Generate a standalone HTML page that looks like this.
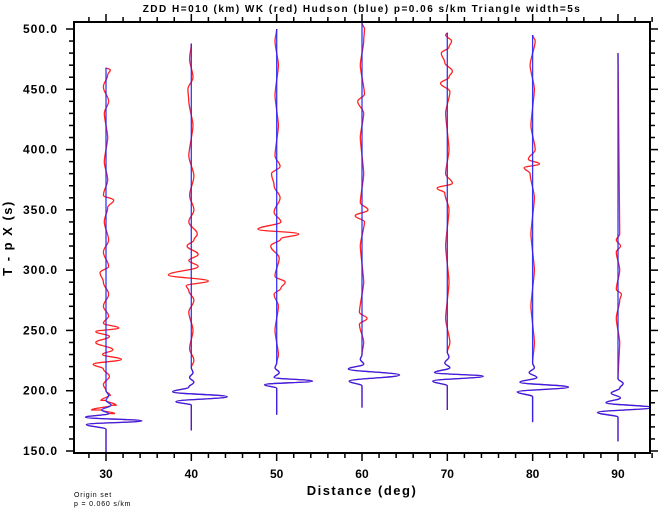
<!DOCTYPE html>
<html><head><meta charset="utf-8"><style>
body{margin:0;background:#fff;}
svg{display:block;font-family:"Liberation Sans",sans-serif;}
</style></head><body>
<svg id="c" width="659" height="508"></svg>
<script>
const distances=[30,40,50,60,70,80,90];
const tRange=[[148,468],[167,488],[180,500],[186,505],[184,497],[174,495],[158,480]];
const bluePulses=[
 [[168,0],[172,-2.3],[175,4.2],[178,-2.4],[181,0.3],[184,-0.5],[188,0.6],[192,0],[196,0.3],[200,0]],
 [[188,0],[191,-1.8],[195,4.2],[199,-2.2],[203,-0.3],[207,0.3],[211,-0.2],[215,0.2],[219,0]],
 [[202,0],[205,-1.4],[208,4.2],[211,-0.3],[215,0.3],[219,-0.2],[223,0]],
 [[204,0],[208,-1.5],[213,4.4],[218,-1.6],[222,0.2],[226,-0.2],[230,0]],
 [[204,0],[208,-1.7],[212,4.2],[215,-1.5],[219,0.3],[223,-0.3],[228,0.2],[232,0]],
 [[195,0],[199,-1.8],[203,4.2],[207,-1.5],[211,0.5],[215,-0.4],[219,0.2],[223,0]],
 [[178,0],[182,-2.4],[186,4.0],[190,-1.4],[194,0.3],[198,-0.8],[202,0.2],[206,0.6],[210,0]]
];
const redExtra=[
 [[181,1.0],[184,-1.7],[188,1.2],[192,-0.6],[196,0.5],[205,-0.3],[212,0.4],[218,-0.3],[222,-1.5],[226,1.8],[230,-0.4],[234,0.8],[240,-1.2],[245,0.4],[249,-1.2],[252,1.5],[256,-0.3],[262,0.3],[270,-0.3],[280,0.3],[290,-0.3],[298,-0.7],[303,0.3],[315,-0.3],[325,0.3],[340,-0.2],[352,0.2],[358,0.9],[362,-0.3],[375,0.2],[390,-0.2],[410,0.2],[430,-0.2],[440,0.3],[452,-0.3],[462,0.2],[466,0.5]],
 [[225,0.3],[235,-0.2],[250,0.2],[265,-0.3],[275,0.3],[283,-0.3],[287,-0.6],[291,2.0],[296,-2.7],[303,0.8],[308,-0.3],[313,0.8],[320,-0.5],[325,0.3],[330,0.7],[340,-0.3],[350,0.3],[362,-0.2],[378,0.3],[395,-0.3],[420,0.2],[440,-0.3],[450,-0.4],[460,0.2],[475,-0.2]],
 [[230,0.2],[250,-0.2],[270,0.2],[280,-0.3],[285,0.5],[290,1.0],[295,-0.2],[310,0.3],[320,-0.7],[326,0.5],[330,2.6],[334,-2.2],[340,0.5],[348,-0.3],[360,0.4],[370,-0.3],[380,-0.6],[386,0.4],[395,-0.2],[420,0.2],[445,-0.2],[470,0.2],[490,-0.2]],
 [[240,0.2],[255,-0.3],[260,0.6],[265,-0.3],[290,0.2],[320,-0.2],[340,0.3],[345,-0.8],[350,0.7],[356,-0.2],[380,0.2],[410,-0.2],[430,0.2],[440,-0.5],[446,0.3],[470,-0.2],[490,0.2],[500,0.3]],
 [[240,0.3],[260,-0.2],[290,0.2],[320,-0.2],[350,0.2],[364,-0.3],[368,-1.2],[372,0.6],[380,-0.2],[400,0.2],[430,-0.2],[448,0.3],[455,-0.8],[460,0.2],[465,0.6],[472,-0.3],[480,-0.7],[485,0.2],[490,0.5],[495,-0.2]],
 [[240,0.2],[270,-0.2],[300,0.2],[330,-0.2],[360,0.2],[380,-0.3],[385,-1.0],[388,0.8],[392,-0.5],[400,0.3],[420,-0.2],[450,0.2],[470,-0.3],[490,0.3]],
 [[240,0.2],[260,-0.2],[275,0.2],[280,0.4],[284,-0.2],[300,0.2],[315,-0.2],[320,0.3],[325,-0.2],[330,0.2]]
];
const yTicks=[150,200,250,300,350,400,450,500];
const xTicks=[30,40,50,60,70,80,90];
const NS='http://www.w3.org/2000/svg';
const L=74,R=650,T=22,B=453;
const X=d=>106+(d-30)*8.533;
const Y=t=>451-(t-150)*1.2057;
const svg=document.getElementById('c');
function el(tag,a,parent){const e=document.createElementNS(NS,tag);for(const k in a)e.setAttribute(k,a[k]);(parent||svg).appendChild(e);return e;}
const defs=el('defs',{});const cp=el('clipPath',{id:'pc'},defs);el('rect',{x:L,y:T,width:R-L,height:B-T},cp);
function smooth(P){
 let d='M'+P[0][0].toFixed(1)+','+P[0][1].toFixed(1);
 for(let i=0;i<P.length-1;i++){
  const p1=P[i],p2=P[i+1],dy=(p2[1]-p1[1]);
  const k=Math.min(Math.abs(dy)/2.5,6)*Math.sign(dy);
  d+=' C'+p1[0].toFixed(1)+','+(p1[1]+k).toFixed(1)+' '+p2[0].toFixed(1)+','+(p2[1]-k).toFixed(1)+' '+p2[0].toFixed(1)+','+p2[1].toFixed(1);
 }
 return d;
}
function series(i,extra){
 const [t0,t1]=tRange[i];let pts=bluePulses[i].slice();
 if(extra)pts=pts.concat(redExtra[i]);
 pts=pts.filter(p=>p[0]>t0&&p[0]<t1);pts.push([t0,0],[t1,0]);pts.sort((a,b)=>a[0]-b[0]);
 return smooth(pts.map(p=>[X(distances[i]+p[1]),Y(p[0])]));
}
const g=el('g',{'clip-path':'url(#pc)'});
distances.forEach((d,i)=>{
 const r=el('path',{d:series(i,true),fill:'none',stroke:'#ff2020','stroke-width':1.3,'stroke-linejoin':'round'},g);
 
 
 const b=el('path',{d:series(i,false),fill:'none',stroke:'#2020ff','stroke-width':1.3,'stroke-linejoin':'round',opacity:0.9},g);
 
 
});
const fr=el('rect',{x:L,y:T,width:R-L,height:B-T,fill:'none',stroke:'#000','stroke-width':2});


for(let t=150;t<=505;t+=10){const y=Y(t);const maj=t%50===0;
 el('line',{x1:L-(maj?8:5),x2:L,y1:y,y2:y,stroke:'#000','stroke-width':1.5});
 el('line',{x1:R,x2:R+(maj?8:5),y1:y,y2:y,stroke:'#000','stroke-width':1.5});}
for(let d=28;d<=94;d+=2){const x=X(d);const maj=d%10===0;
 el('line',{x1:x,x2:x,y1:B,y2:B+(maj?8:5),stroke:'#000','stroke-width':1.5});
 el('line',{x1:x,x2:x,y1:T-(maj?8:5),y2:T,stroke:'#000','stroke-width':1.5});}
yTicks.forEach(t=>{const e=el('text',{x:58,y:Y(t)+4,'text-anchor':'end','font-size':12,'font-weight':'bold','letter-spacing':1});e.textContent=t.toFixed(1);
 
 });
xTicks.forEach(d=>{const e=el('text',{x:X(d),y:478,'text-anchor':'middle','font-size':12,'font-weight':'bold'});e.textContent=d;
 
 });
let e=el('text',{x:362,y:12,'text-anchor':'middle','font-size':10,'font-weight':'bold','letter-spacing':1.5});e.textContent='ZDD H=010 (km) WK (red) Hudson (blue) p=0.06 s/km Triangle width=5s';


e=el('text',{x:362,y:495,'text-anchor':'middle','font-size':13,'font-weight':'bold','letter-spacing':1.5});e.textContent='Distance (deg)';


e=el('text',{x:0,y:0,transform:'translate(12,238) rotate(-90)','text-anchor':'middle','font-size':13,'font-weight':'bold','letter-spacing':1.5});e.textContent='T - p X (s)';


e=el('text',{x:74,y:497,'font-size':7,'letter-spacing':0.8});e.textContent='Origin set';


e=el('text',{x:74,y:506,'font-size':7,'letter-spacing':0.8});e.textContent='p = 0.060 s/km';


</script>
</body></html>
